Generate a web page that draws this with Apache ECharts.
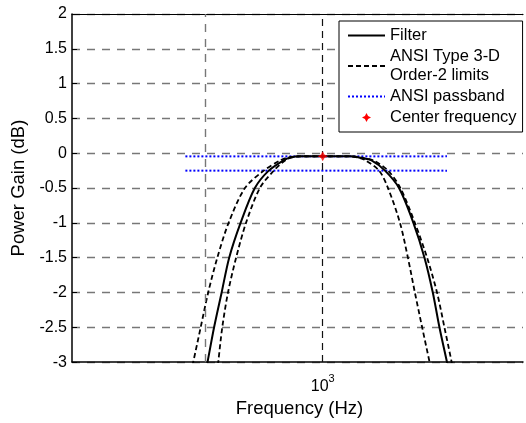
<!DOCTYPE html>
<html>
<head>
<meta charset="utf-8">
<script src="https://cdn.jsdelivr.net/npm/echarts@6/dist/echarts.min.js"></script>
<style>
html,body{margin:0;padding:0;background:#fff;}
#c{width:526px;height:423px;}
</style>
</head>
<body>
<div id="c"></div>
<script>
// ---- data (frequency in Hz, gain in dB) ----
const filterFreq = [488, 508, 528, 552, 577, 617, 671, 728, 795, 828, 878, 1000, 1176, 1261, 1329, 1442, 1566, 1704, 1819, 1910, 1986, 2076, 2170];
const filterGain = [-3.5, -3.0, -2.5, -2.0, -1.5, -1.0, -0.5, -0.25, -0.1, -0.06, -0.045, -0.045, -0.045, -0.07, -0.1, -0.25, -0.5, -1.0, -1.5, -2.0, -2.5, -3.0, -3.5];

const innerLimFreq = [528, 541, 554, 573, 601, 637, 691, 750, 803, 833, 883, 1000, 1162, 1246, 1284, 1393, 1468, 1575, 1650, 1719, 1794, 1874, 1955];
const innerLimGain = [-3.5, -3.0, -2.5, -2.0, -1.5, -1.0, -0.5, -0.25, -0.1, -0.06, -0.045, -0.045, -0.045, -0.07, -0.1, -0.25, -0.5, -1.0, -1.5, -2.0, -2.5, -3.0, -3.5];

const outerLimFreq = [446, 467, 488, 510, 538, 575, 633, 707, 780, 818, 858, 1000, 1190, 1276, 1345, 1468, 1579, 1719, 1847, 1958, 2045, 2134, 2223];
const outerLimGain = [-3.5, -3.0, -2.5, -2.0, -1.5, -1.0, -0.5, -0.25, -0.1, -0.06, -0.045, -0.045, -0.045, -0.07, -0.1, -0.25, -0.5, -1.0, -1.5, -2.0, -2.5, -3.0, -3.5];

const passbandFreq = [446, 2076];
const passbandUpper = [-0.045, -0.045];
const passbandLower = [-0.25, -0.25];

const centerFreq = [1000];
const centerGain = [-0.045];

const gridFreqs = [500];
const centerLineFreq = 1000;

const xRange = [229, 3246];
const yTicks = [-3, -2.5, -2, -1.5, -1, -0.5, 0, 0.5, 1, 1.5, 2];

const names = {
  filter: 'Filter',
  lim: 'ANSI Type 3-D Order-2 limits',
  pass: 'ANSI passband',
  center: 'Center frequency'
};

function zip(a, b) { return a.map((v, i) => [v, b[i]]); }

const FONT = "'Liberation Sans', Arial, Helvetica, sans-serif";
const chart = echarts.init(document.getElementById('c'), null, {renderer: 'canvas'});

const dashBlack = {color: '#000', width: 1.8, type: [5, 3]};
const starPath = 'path://M0,-10 L3.5,-3.5 L10,0 L3.5,3.5 L0,10 L-3.5,3.5 L-10,0 L-3.5,-3.5 Z';

chart.setOption({
  animation: false,
  backgroundColor: '#fff',
  textStyle: {fontFamily: FONT},
  grid: {left: 72, top: 14, right: 0, height: 355, show: false},
  legend: {
    orient: 'vertical',
    left: 339, top: 21,
    padding: [5, 6, 5, 8],
    itemGap: 2,
    itemWidth: 37,
    itemHeight: 9,
    borderColor: '#000', borderWidth: 1,
    backgroundColor: '#fff',
    borderRadius: 0,
    itemStyle: {opacity: 0},
    textStyle: {fontFamily: FONT, fontSize: 16.5, lineHeight: 19, color: '#000'},
    formatter: n => n === names.lim ? 'ANSI Type 3-D\nOrder-2 limits' : n,
    data: [
      {name: names.filter},
      {name: names.lim},
      {name: names.pass},
      {name: names.center, icon: starPath, itemStyle: {opacity: 1, color: '#ff0000'}}
    ]
  },
  xAxis: [{
    type: 'log', logBase: 10,
    min: xRange[0], max: xRange[1],
    name: 'Frequency (Hz)', nameLocation: 'middle', nameGap: 36,
    nameTextStyle: {fontFamily: FONT, fontSize: 18.5, color: '#000', padding: [0, 0, 0, 4]},
    axisLine: {show: true, onZero: false, lineStyle: {color: '#000', width: 1.5}},
    axisTick: {show: false},
    splitLine: {show: false},
    minorTick: {show: false},
    axisLabel: {
      margin: 11,
      color: '#000',
      formatter: v => Math.abs(Math.log10(v) - 3) < 1e-6 ? '{a|10}{b|3}' : '',
      rich: {
        a: {fontFamily: FONT, fontSize: 16, color: '#000', verticalAlign: 'bottom'},
        b: {fontFamily: FONT, fontSize: 11, color: '#000', verticalAlign: 'bottom', padding: [0, 0, 10, 0]}
      }
    }
  }, {
    type: 'log', logBase: 10, position: 'top',
    min: xRange[0], max: xRange[1],
    axisLine: {show: true, onZero: false, lineStyle: {color: '#000', width: 1.2}},
    axisTick: {show: false}, axisLabel: {show: false}, splitLine: {show: false}
  }],
  yAxis: {
    type: 'value',
    min: yTicks[0], max: yTicks[yTicks.length - 1], interval: 0.5,
    name: 'Power Gain (dB)', nameLocation: 'middle', nameGap: 36,
    nameTextStyle: {fontFamily: FONT, fontSize: 18.5, color: '#000'},
    axisLine: {show: true, onZero: false, lineStyle: {color: '#000', width: 1.5}},
    axisTick: {show: true, inside: true, length: 5, lineStyle: {color: '#000'}},
    axisLabel: {margin: 5, color: '#000', fontFamily: FONT, fontSize: 16},
    splitLine: {show: true, lineStyle: {color: '#777', width: 1.4, type: [8, 7]}}
  },
  series: [
    {
      name: names.filter, type: 'line', data: zip(filterFreq, filterGain),
      symbol: 'none', smooth: 0.3, clip: true,
      lineStyle: {color: '#000', width: 2},
      itemStyle: {color: '#000'},
      z: 5,
      markLine: {
        silent: true, symbol: 'none', label: {show: false}, animation: false,
        data: gridFreqs.map(f => ({xAxis: f, lineStyle: {color: '#777', width: 1.4, type: [8, 7]}}))
          .concat([{xAxis: centerLineFreq, lineStyle: {color: '#111', width: 1.2, type: [7, 5]}}])
      }
    },
    {
      name: names.lim, type: 'line', data: zip(innerLimFreq, innerLimGain),
      symbol: 'none', smooth: 0.3, clip: true,
      lineStyle: dashBlack, itemStyle: {color: '#000'}, z: 4
    },
    {
      name: names.lim, type: 'line', data: zip(outerLimFreq, outerLimGain),
      symbol: 'none', smooth: 0.3, clip: true,
      lineStyle: dashBlack, itemStyle: {color: '#000'}, z: 4
    },
    {
      name: names.pass, type: 'line', data: zip(passbandFreq, passbandUpper),
      symbol: 'none', clip: true,
      lineStyle: {color: '#0000ff', width: 2, type: [2, 2]}, itemStyle: {color: '#0000ff'}, z: 3
    },
    {
      name: names.pass, type: 'line', data: zip(passbandFreq, passbandLower),
      symbol: 'none', clip: true,
      lineStyle: {color: '#0000ff', width: 2, type: [2, 2]}, itemStyle: {color: '#0000ff'}, z: 3
    },
    {
      name: names.center, type: 'scatter', data: zip(centerFreq, centerGain),
      symbol: starPath,
      symbolSize: 10,
      itemStyle: {color: '#ff0000'}, z: 10
    }
  ]
});
</script>
</body>
</html>
